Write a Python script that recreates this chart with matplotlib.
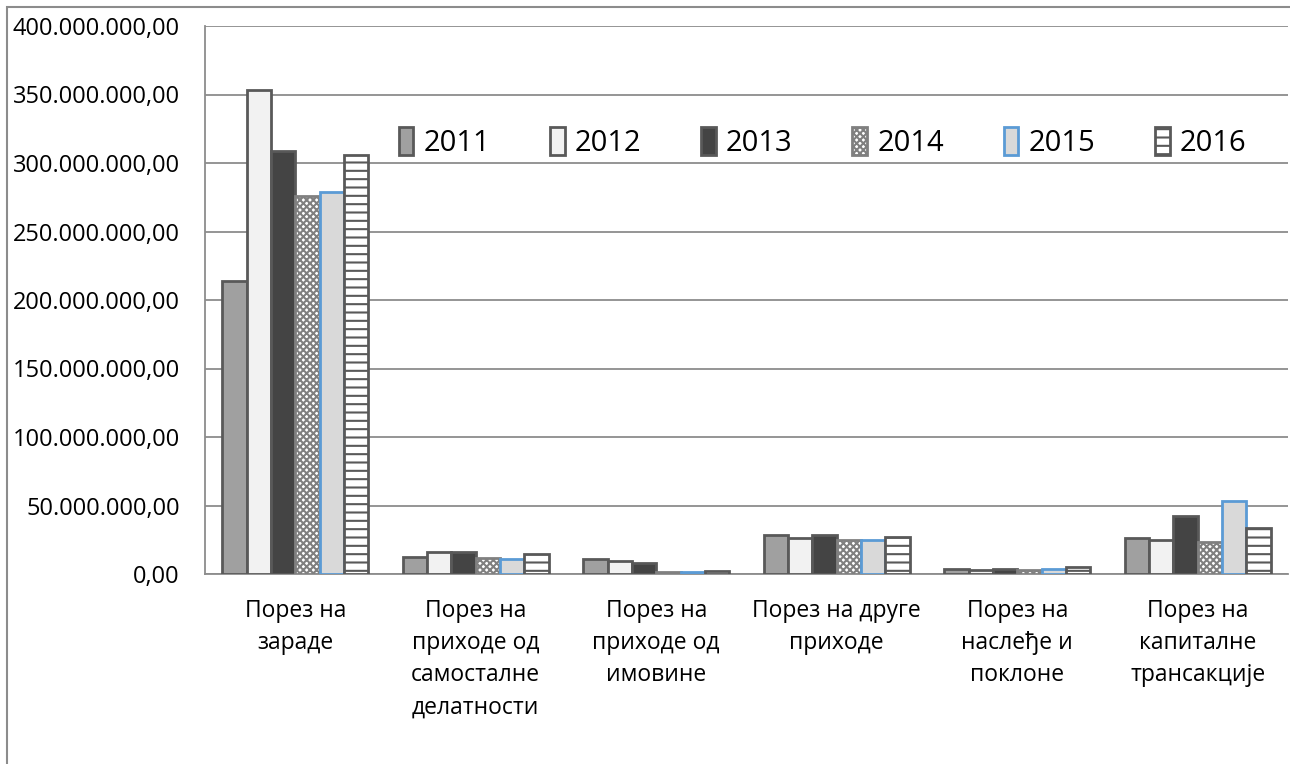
import numpy as np
import matplotlib.pyplot as plt
from matplotlib.patches import Rectangle

categories = [
    "Порез на\nзараде",
    "Порез на\nприходе од\nсамосталне\nделатности",
    "Порез на\nприходе од\nимовине",
    "Порез на друге\nприходе",
    "Порез на\nнаслеђе и\nпоклоне",
    "Порез на\nкапиталне\nтрансакције",
]
years = ["2011", "2012", "2013", "2014", "2015", "2016"]

# values in millions of dinars
v2011 = [214.0, 12.6, 11.2, 28.7, 4.0, 26.5]
v2012 = [353.0, 16.3, 9.5, 26.5, 3.2, 24.8]
v2013 = [309.0, 16.3, 8.2, 28.7, 4.0, 42.3]
v2014 = [276.0, 11.9, 1.5, 24.8, 3.2, 23.6]
v2015 = [279.0, 10.9, 1.2, 24.8, 4.0, 53.5]
v2016 = [306.0, 14.8, 2.0, 27.2, 5.1, 33.5]
series = [v2011, v2012, v2013, v2014, v2015, v2016]

edge = "#595959"
styles = [
    dict(facecolor="#a0a0a0", edgecolor=edge, hatch=None),
    dict(facecolor="#f2f2f2", edgecolor=edge, hatch=None),
    dict(facecolor="#444444", edgecolor=edge, hatch=None),
    dict(facecolor="white", edgecolor="#808080", hatch="xxxxx"),
    dict(facecolor="#d9d9d9", edgecolor="#5b9bd5", hatch=None),
    dict(facecolor="white", edgecolor=edge, hatch="--"),
]

font = ["Open Sans", "DejaVu Sans"]
plt.rcParams["font.family"] = font
plt.rcParams["hatch.linewidth"] = 1.5

fig = plt.figure(figsize=(12.9, 7.64), dpi=100)
ax = fig.add_axes([205 / 1290, 1 - 574 / 764, 1083 / 1290, 548 / 764])

fig.patches.append(Rectangle((7 / 1290, -0.1), 1.2, 1 - 7 / 764 + 0.1,
                             transform=fig.transFigure, fill=False,
                             edgecolor="#8c8c8c", linewidth=1.5))

x = np.arange(len(categories))
n = len(years)
w = 0.81 / n
for i, (yr, vals) in enumerate(zip(years, series)):
    st = styles[i]
    ax.bar(x - 0.405 + w * (i + 0.5), np.array(vals) * 1e6, width=w,
           facecolor=st["facecolor"], edgecolor=st["edgecolor"],
           hatch=st["hatch"], linewidth=2, label=yr, zorder=3)

ticks = np.arange(0, 400e6 + 1, 50e6)
ax.set_xlim(-0.5, len(categories) - 0.5)
ax.set_ylim(0, 400e6)
ax.set_yticks(ticks)
ax.set_yticklabels([f"{int(t):,}".replace(",", ".") + ",00" for t in ticks])
ax.set_xticks(x)
ax.set_xticklabels(categories, linespacing=1.45, va="top")
ax.tick_params(axis="x", length=0, labelsize=16.5, pad=18)
ax.tick_params(axis="y", length=0, labelsize=17, pad=18)

ax.grid(axis="y", color="#8c8c8c", linewidth=1.3, zorder=0)
for s in ["top", "right"]:
    ax.spines[s].set_visible(False)
for s in ["left", "bottom"]:
    ax.spines[s].set_color("#8c8c8c")
    ax.spines[s].set_linewidth(1.3)

ax.legend(loc="center left", bbox_to_anchor=(0.179, 0.788), ncol=6, frameon=False,
          fontsize=21, handlelength=0.5, handleheight=1.1, columnspacing=2.05,
          handletextpad=0.35, borderpad=0, borderaxespad=0)

fig.savefig("out.png", dpi=100)
